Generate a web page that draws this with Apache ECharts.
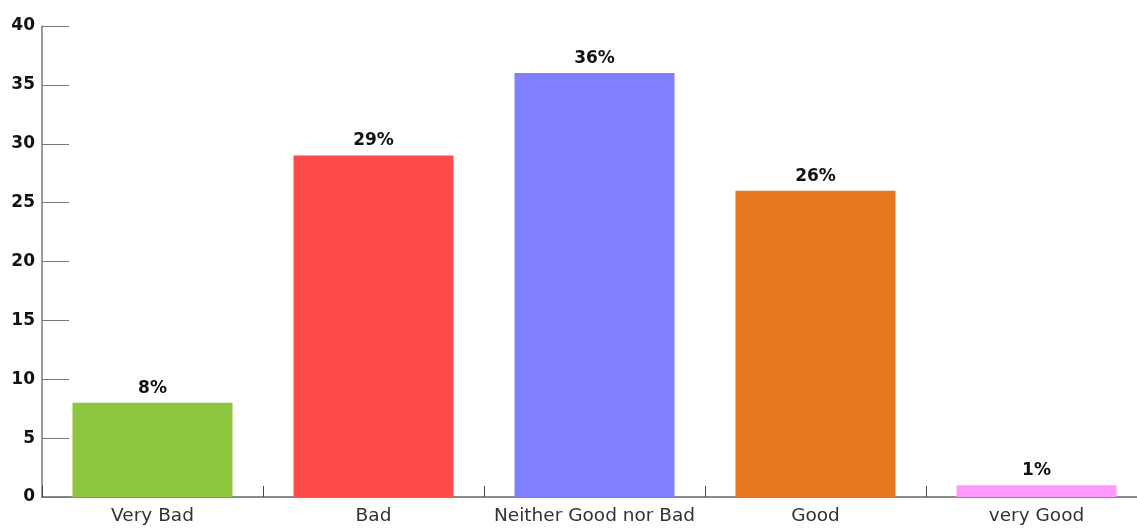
<!DOCTYPE html>
<html><head><meta charset="utf-8">
<script src="https://cdn.jsdelivr.net/npm/echarts@6/dist/echarts.min.js"></script>
<style>html,body{margin:0;padding:0;background:#fff;overflow:hidden}#c{width:1147px;height:528px}</style>
</head><body><div id="c"></div>
<script>
const categories = ["Very Bad", "Bad", "Neither Good nor Bad", "Good", "very Good"];
const values = [8, 29, 36, 26, 1];
const colors = ["#8DC63F", "#FF4A4A", "#8080FF", "#E87722", "#FF99FF"];
const yTicks = { min: 0, max: 40, interval: 5 };

const chart = echarts.init(document.getElementById('c'));
chart.setOption({
  animation: false,
  grid: { left: 42, right: 0, top: 26, bottom: 31, containLabel: false },
  xAxis: {
    type: 'category', data: categories,
    axisLine: { lineStyle: { color: '#666', width: 1.5 } },
    axisTick: { show: true, inside: true, length: 11, interval: 0, lineStyle: { color: '#444' } },
    axisLabel: { interval: 0, color: '#333', fontSize: 18.5, fontFamily: 'DejaVu Sans', margin: 10 }
  },
  yAxis: {
    type: 'value', min: yTicks.min, max: yTicks.max, interval: yTicks.interval,
    splitLine: { show: false },
    axisLine: { show: true, lineStyle: { color: '#777', width: 1.5 } },
    axisTick: { show: true, inside: true, length: 27, lineStyle: { color: '#777' } },
    axisLabel: { color: '#111', fontSize: 17, fontWeight: 'bold', fontFamily: 'DejaVu Sans', margin: 7, verticalAlign: 'middle', padding: [4, 0, 0, 0] }
  },
  series: [{
    type: 'bar', barWidth: 160,
    data: values.map((v, i) => ({ value: v, itemStyle: { color: colors[i] } })),
    label: { show: true, position: 'top', distance: 6, formatter: p => p.value + '%', color: '#111', fontWeight: 'bold', fontSize: 17, fontFamily: 'DejaVu Sans' }
  }]
});
</script></body></html>
